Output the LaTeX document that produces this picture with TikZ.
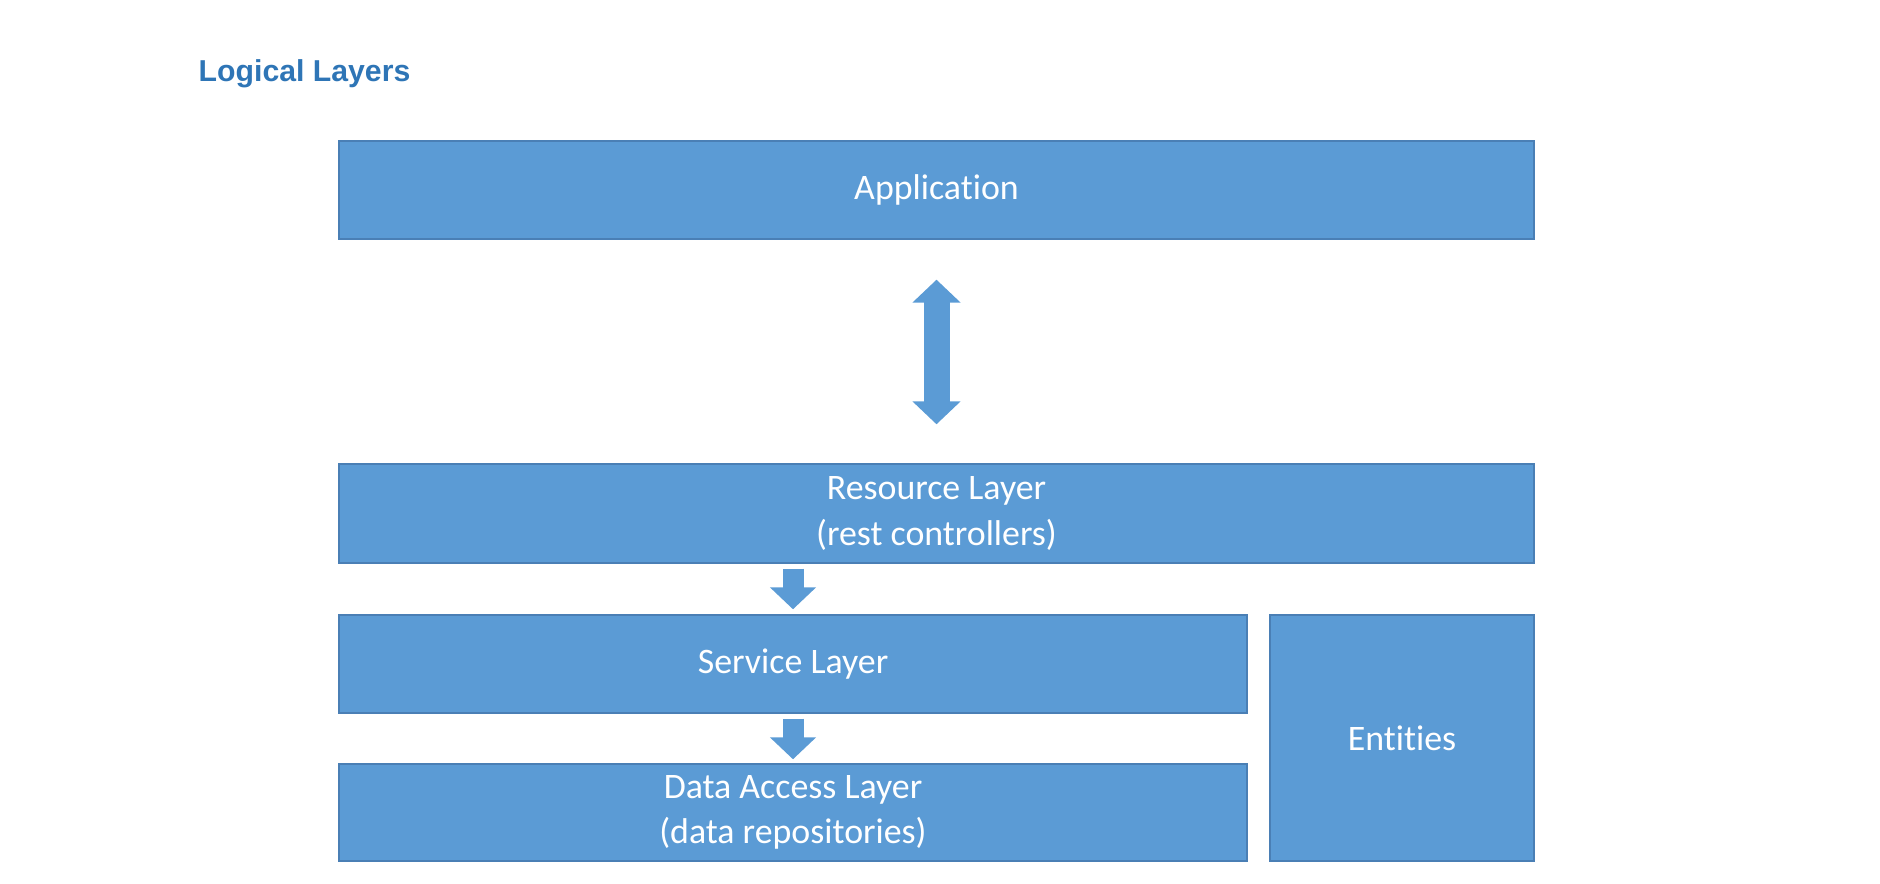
\documentclass[tikz,border=0pt]{standalone}
\usepackage{fontspec}
\setmainfont{Carlito}[Ligatures=NoCommon]
\newfontfamily\titlefont{Liberation Sans}
\usetikzlibrary{arrows.meta}
\definecolor{layerblue}{HTML}{5B9BD5}
\definecolor{layerline}{HTML}{4A7FB5}
\definecolor{titleblue}{HTML}{2E75B6}
\tikzset{
    layer/.style={draw=layerline,fill=layerblue,text=white,align=center,inner sep=0pt,
        font=\fontsize{10.2}{13}\selectfont},
    bigarrow/.style={layerblue,line width=0.26cm,{Triangle[width=0.47cm,length=0.23cm]}-{Triangle[width=0.47cm,length=0.23cm]}},
    smallarrow/.style={layerblue,line width=0.21cm,-{Triangle[width=0.45cm,length=0.22cm]}}
}
\begin{document}
\begin{tikzpicture}
\useasboundingbox (0,0) rectangle (18.80,8.84);
\node[anchor=base west,inner sep=0pt,text=titleblue,font=\titlefont\bfseries\fontsize{8.6}{10}\selectfont] (title) at (1.98,8.02) {Logical Layers};

\node[layer,minimum width=11.95cm,minimum height=0.98cm] (app) at (9.365,6.94) {Application};
\node[layer,minimum width=11.95cm,minimum height=0.99cm] (res) at (9.365,3.705) {Resource Layer\\(rest controllers)};
\node[layer,minimum width=9.08cm,minimum height=0.98cm] (srv) at (7.93,2.20) {Service Layer};
\node[layer,minimum width=9.08cm,minimum height=0.97cm] (dal) at (7.93,0.715) {Data Access Layer\\(data repositories)};
\node[layer,minimum width=2.64cm,minimum height=2.46cm] (ent) at (14.02,1.46) {Entities};

\draw[bigarrow,shorten <=0.40cm,shorten >=0.39cm](app.south)--(res.north);
\draw[smallarrow,shorten <=0.05cm,shorten >=0.05cm](srv.north |- res.south)--(srv.north);
\draw[smallarrow,shorten <=0.05cm,shorten >=0.04cm](srv.south)--(dal.north);

\end{tikzpicture}
\end{document}
